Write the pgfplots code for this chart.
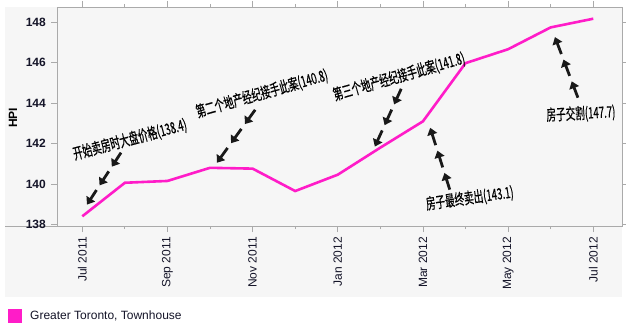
\documentclass[border=0pt]{standalone}
\usepackage{fontspec}
\setmainfont{Liberation Sans}
\newfontfamily\cjk[FakeStretch=0.62,FakeBold=0.5]{Noto Sans CJK SC}
\usepackage{pgfplots}
\pgfplotsset{compat=1.18}
\usetikzlibrary{arrows.meta,calc}
\definecolor{hpipink}{RGB}{255,28,200}
\definecolor{panel}{RGB}{246,246,246}
\definecolor{framec}{RGB}{170,170,170}
\definecolor{txt}{RGB}{20,20,40}
\begin{document}
\begin{tikzpicture}
\useasboundingbox (0,0) rectangle (626bp,329bp);
\fill[panel] (5bp,32bp) rectangle (622bp,322bp);
\draw[framec, line width=0.8bp] (5bp,103bp) -- (57bp,103bp);
\begin{axis}[
  at={(57bp,103bp)}, anchor=south west,
  scale only axis, width=565bp, height=219bp,
  xmin=-0.594, xmax=12.675, ymin=137.92, ymax=148.76,
  axis line style={draw=framec, line width=0.8bp},
  tick style={draw=framec, line width=0.8bp},
  tick align=outside,
  xtick={0,2,...,12},
  xticklabels={Jul 2011,Sep 2011,Nov 2011,Jan 2012,Mar 2012,May 2012,Jul 2012},
  minor xtick={1,3,...,11},
  major tick length=6bp, minor tick length=3bp,
  ytick={138,140,...,148},
  xticklabel style={rotate=90, anchor=east, font=\fontsize{12bp}{14bp}\selectfont, text=txt, inner sep=0pt},
  yticklabel style={font=\fontsize{12bp}{14bp}\selectfont\bfseries, text=txt, inner sep=0pt},
  xticklabel shift=5bp,
  yticklabel shift=5bp,
  /pgf/number format/assume math mode=true,
  axis background/.style={fill=panel},
  clip=false,
]
\addplot[hpipink, line width=2.6bp] coordinates {
(0,138.4)(1,140.06)(2,140.15)(3,140.8)(4,140.76)(5,139.65)(6,140.46)
(7,141.8)(8,143.1)(9,145.98)(10,146.67)(11,147.75)(12,148.18)};
\coordinate (n1) at (axis cs:1.12,142.19);
\coordinate (n2) at (axis cs:4.22,144.46);
\coordinate (n3) at (axis cs:7.44,145.30);
\coordinate (n4) at (axis cs:9.10,139.28);
\coordinate (n5) at (axis cs:11.71,143.47);
\coordinate (a1t) at (axis cs:0.909,141.55);
\coordinate (a1h) at (axis cs:0.110,138.98);
\coordinate (a2t) at (axis cs:4.06,143.67);
\coordinate (a2h) at (axis cs:3.16,141.05);
\coordinate (a3t) at (axis cs:7.49,144.71);
\coordinate (a3h) at (axis cs:6.87,141.85);
\coordinate (a4t) at (axis cs:8.63,139.72);
\coordinate (a4h) at (axis cs:8.17,142.78);
\coordinate (a5t) at (axis cs:11.64,144.27);
\coordinate (a5h) at (axis cs:11.10,147.27);
\end{axis}
\foreach \p/\q in {a1t/a1h,a2t/a2h,a3t/a3h,a4t/a4h,a5t/a5h}{
  \foreach \a/\b in {0/0.27,0.36/0.63,0.72/1.0}{
    \draw[black!90, line width=2.8bp, -{Triangle[length=7bp,width=10bp]}] ($(\p)!\a!(\q)$) -- ($(\p)!\b!(\q)$);
  }
}
\tikzset{ann/.style={inner sep=0pt, text=black, font=\cjk\fontsize{15.5bp}{17bp}\selectfont}}
\node[ann, rotate=15] at (n1) {开始卖房时大盘价格(138.4)};
\node[ann, rotate=16] at (n2) {第二个地产经纪接手此案(140.8)};
\node[ann, rotate=16] at (n3) {第三个地产经纪接手此案(141.8)};
\node[ann, rotate=8] at (n4) {房子最终卖出(143.1)};
\node[ann, rotate=3] at (n5) {房子交割(147.7)};
\node[rotate=90, font=\fontsize{12bp}{14bp}\selectfont\bfseries, text=black] at (13bp,211bp) {HPI};
\fill[hpipink] (8bp,6bp) rectangle (22bp,20bp);
\node[anchor=west, inner sep=0pt, font=\fontsize{12bp}{14bp}\selectfont, text=txt] at (30bp,13bp) {Greater Toronto, Townhouse};
\end{tikzpicture}
\end{document}
